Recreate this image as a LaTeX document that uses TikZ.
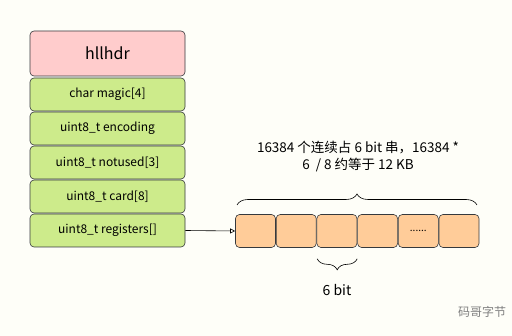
\documentclass[tikz,border=0pt]{standalone}
\usepackage{fontspec}
\setmainfont{Noto Sans CJK SC}
\usepackage{xcolor}
\usetikzlibrary{arrows.meta,positioning,decorations.pathreplacing}
\definecolor{bgc}{HTML}{FEFEF8}
\definecolor{hdrc}{HTML}{FFCCCC}
\definecolor{fieldc}{HTML}{CDEB8B}
\definecolor{regc}{HTML}{FFCC99}
\definecolor{linec}{HTML}{36393D}

\begin{document}
\begin{tikzpicture}[x=1pt,y=-1pt,font=\fontsize{12}{14}\selectfont,
  f/.style={draw=linec,rounded corners=4pt,align=center,minimum width=155pt,
            minimum height=33pt,fill=fieldc,line width=0.6pt,inner sep=2pt},
  hdr/.style={f,fill=hdrc,minimum height=45pt,font=\fontsize{16}{18}\selectfont},
  reg/.style={f,fill=regc,minimum width=40pt},
  brc/.style={decorate,decoration={brace,amplitude=11pt},draw=black,line width=0.6pt}]
\fill[bgc] (0,0) rectangle (512,336);
\node[hdr] (h) at (107.5,53.5) {hllhdr};
\node[f] (magic) at (107.5,94.5) {char magic[4]};
\node[f] (enc) at (107.5,128.5) {uint8\_t encoding};
\node[f] (unused) at (107.5,162.5) {uint8\_t notused[3]};
\node[f] (card) at (107.5,196.5) {uint8\_t card[8]};
\node[f] (regs) at (107.5,230.5) {uint8\_t registers[]};
\foreach \i in {1,...,6}{\node[reg] (r\i) at ({255.5+40.7*(\i-1)},231) {};}
\node[font=\fontsize{10}{12}\selectfont] at (r5) {......};
\draw[-{Triangle[open,length=5pt,width=5pt]},line width=0.6pt] (regs.east)--(r1.west);
\draw[brc] (237,205)--(477,205);
\node[font=\fontsize{13.5}{17}\selectfont,align=center] (note) at (358,156.5)
  {16384 个连续占 6 bit 串，16384 *\\6 \ / 8 约等于 12 KB};
\draw[brc] (r3.south east)++(0,11)--++(-40,0);
\node[font=\fontsize{14}{16}\selectfont] (six) at (337,290) {6 bit};
\node[font=\fontsize{12}{14}\selectfont,gray] (wm) at (482,312) {码哥字节};
\end{tikzpicture}
\end{document}
